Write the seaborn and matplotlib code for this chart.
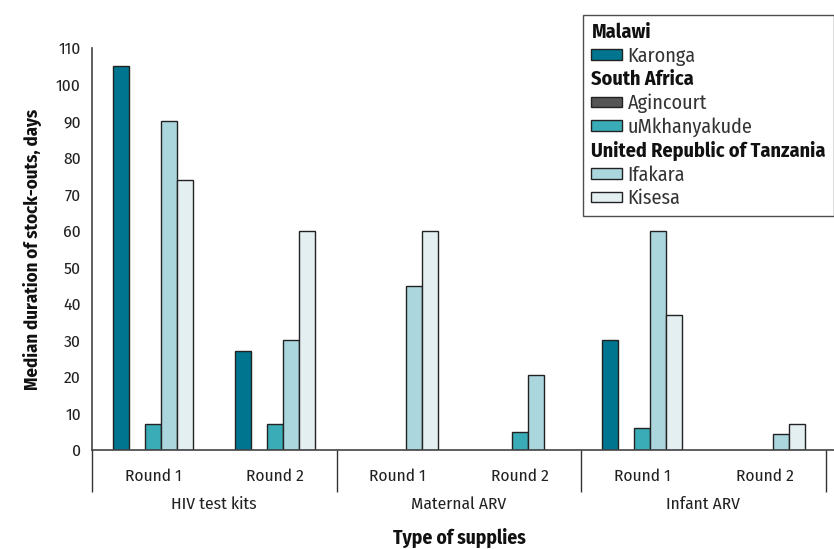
import numpy as np
import pandas as pd
import matplotlib.pyplot as plt
import seaborn as sns
from matplotlib.patches import Patch

# data
supplies = ["HIV test kits", "Maternal ARV", "Infant ARV"]
rounds = ["Round 1", "Round 2"]
sites = ["Karonga", "Agincourt", "uMkhanyakude", "Ifakara", "Kisesa"]
countries = {"Malawi": ["Karonga"],
             "South Africa": ["Agincourt", "uMkhanyakude"],
             "United Republic of Tanzania": ["Ifakara", "Kisesa"]}
karonga = [105, 27, np.nan, np.nan, 30, np.nan]
agincourt = [np.nan] * 6
umkhanyakude = [7, 7, np.nan, 5, 6, np.nan]
ifakara = [90, 30, 45, 20.5, 60, 4.5]
kisesa = [74, 60, 60, np.nan, 37, 7]
colors = ["#00758f", "#555555", "#3aacb8", "#acd6de", "#e3eff1"]

groups = [f"{s}|{r}" for s in supplies for r in rounds]
df = pd.DataFrame({"group": groups, "Karonga": karonga, "Agincourt": agincourt,
                   "uMkhanyakude": umkhanyakude, "Ifakara": ifakara, "Kisesa": kisesa})
long = df.melt(id_vars="group", var_name="site", value_name="days")

sns.set_style("white")
plt.rcParams["font.family"] = ["Fira Sans Condensed", "DejaVu Sans"]
txt_col = "#222222"

fig = plt.figure(figsize=(8.34, 5.49), dpi=100)
ax = fig.add_axes([92 / 834, 99 / 549, 742 / 834, 402 / 549])

sns.barplot(data=long, x="group", y="days", hue="site", order=groups,
            hue_order=sites, palette=colors, saturation=1, width=0.655,
            edgecolor="#222222", linewidth=1, ax=ax, legend=False)

ax.set_ylim(0, 110)
ax.set_xlim(-0.5, 5.568)
ax.set_yticks(range(0, 111, 10))
ax.set_yticklabels([str(v) for v in range(0, 111, 10)], fontsize=12.5, color=txt_col)
ax.tick_params(axis="y", length=5, width=1, color="#333333", pad=3)
for s in ["top", "right"]:
    ax.spines[s].set_visible(False)
for s in ["left", "bottom"]:
    ax.spines[s].set_color("#444444")
    ax.spines[s].set_linewidth(1.2)

ax.set_xticks(range(6))
ax.set_xticklabels([r for s in supplies for r in rounds], fontsize=12.5, color=txt_col)
ax.tick_params(axis="x", which="major", length=0, pad=13)
ax.set_xticks([0.5, 2.5, 4.5], minor=True)
ax.tick_params(axis="x", which="minor", length=9, width=1, color="#333333")

sec = ax.secondary_xaxis(location=0)
sec.set_xticks([-0.5, 1.5, 3.5, 5.5], labels=["", "", "", ""])
sec.tick_params(length=30, width=1, color="#333333")
sec.spines["bottom"].set_visible(False)
sec2 = ax.secondary_xaxis(location=0)
sec2.set_xticks([0.5, 2.5, 4.5], labels=supplies, fontsize=12.5, color=txt_col)
sec2.tick_params(length=0, pad=33)
sec2.spines["bottom"].set_visible(False)

ax.set_xlabel("")
ax.set_ylabel("Median duration of stock-outs, days", fontsize=13.5,
              fontweight="bold", color="#111111", labelpad=10)
fig.text(459 / 834, 1 - 538 / 549, "Type of supplies", fontsize=14,
         fontweight="bold", color="#111111", ha="center", va="center")

# legend with country headers
handles, labels, headers = [], [], []
for country, members in countries.items():
    headers.append(len(labels))
    handles.append(Patch(facecolor="none", edgecolor="none"))
    labels.append(country)
    for m in members:
        handles.append(Patch(facecolor=colors[sites.index(m)], edgecolor="#222222"))
        labels.append(m)
leg = fig.legend(handles, labels, loc="upper right", bbox_to_anchor=(1.0, 1 - 15 / 549),
                 frameon=True, fancybox=False, fontsize=14.5, handlelength=1.5,
                 handleheight=0.45, handletextpad=0.3, labelspacing=0.2,
                 borderpad=0.4, borderaxespad=0)
leg.get_frame().set_edgecolor("#222222")
leg.get_frame().set_linewidth(1)
for i, t in enumerate(leg.get_texts()):
    t.set_color("#333333")
    if i in headers:
        t.set_fontweight("bold")
        t.set_color("#111111")
for i, hp in enumerate(leg._legend_handle_box.get_children()[0].get_children()):
    if i in headers:
        da, ta = hp.get_children()
        da.set_width(0)
        hp.sep = 0

fig.savefig("out.png", dpi=100)
